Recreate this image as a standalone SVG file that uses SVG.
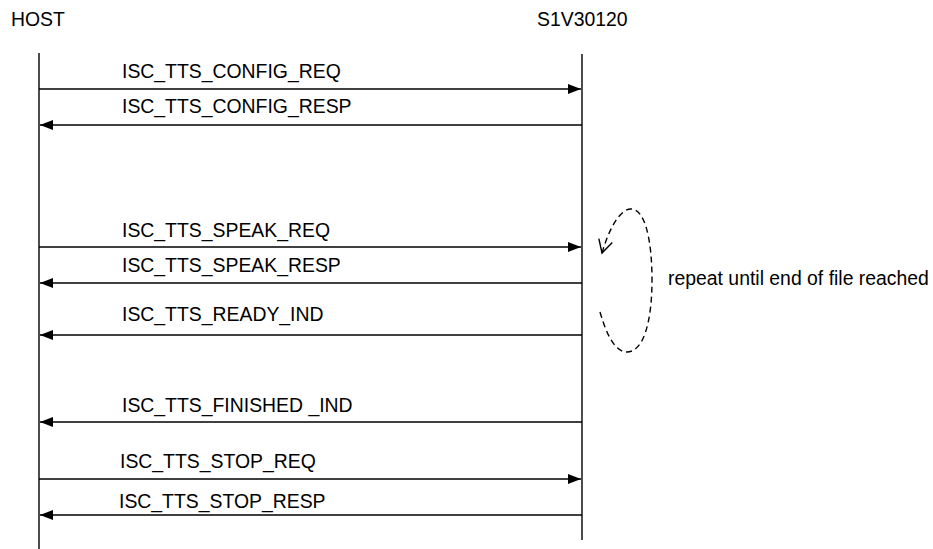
<svg xmlns="http://www.w3.org/2000/svg" width="933" height="549" viewBox="0 0 933 549">
<defs>
<style>
text{font-family:"Liberation Sans",Arial,sans-serif;font-size:19.4px;fill:#000}
.life{stroke:#000;stroke-width:1.4;fill:none}
.msg{stroke:#000;stroke-width:1.4;fill:none;marker-end:url(#arr)}
.loop{stroke:#000;stroke-width:1.4;fill:none;stroke-dasharray:6,4;marker-end:url(#open)}
</style>
<marker id="arr" markerUnits="userSpaceOnUse" markerWidth="14" markerHeight="12" refX="13" refY="5" orient="auto">
<path d="M0,0 L13,5 L0,10 Z" fill="#000"/>
</marker>
<marker id="open" markerUnits="userSpaceOnUse" markerWidth="18" markerHeight="18" refX="14" refY="8" orient="auto">
<path d="M1,1 L14,8 L1,15" fill="none" stroke="#000" stroke-width="1.4"/>
</marker>
</defs>
<g id="host">
<text x="11" y="26">HOST</text>
<line class="life" x1="39" y1="53" x2="39" y2="549"/>
</g>
<g id="s1v30120">
<text x="537" y="26">S1V30120</text>
<line class="life" x1="582" y1="54" x2="582" y2="540"/>
</g>
<g id="connectors">
<line class="msg" x1="39" y1="89" x2="581" y2="89"/>
<text x="122" y="78">ISC_TTS_CONFIG_REQ</text>
<line class="msg" x1="582" y1="125" x2="40" y2="125"/>
<text x="122" y="113">ISC_TTS_CONFIG_RESP</text>
<line class="msg" x1="39" y1="247" x2="581" y2="247"/>
<text x="122" y="237">ISC_TTS_SPEAK_REQ</text>
<line class="msg" x1="582" y1="283" x2="40" y2="283"/>
<text x="122" y="272">ISC_TTS_SPEAK_RESP</text>
<line class="msg" x1="582" y1="335" x2="40" y2="335"/>
<text x="122" y="321">ISC_TTS_READY_IND</text>
<line class="msg" x1="582" y1="422" x2="40" y2="422"/>
<text x="122" y="412">ISC_TTS_FINISHED _IND</text>
<line class="msg" x1="39" y1="479" x2="581" y2="479"/>
<text x="120" y="468">ISC_TTS_STOP_REQ</text>
<line class="msg" x1="582" y1="515" x2="40" y2="515"/>
<text x="119" y="508">ISC_TTS_STOP_RESP</text>
<path class="loop" d="M600,312 C608,340 617,352 627,352 C644,352 652,320 652,280 C652,240 645,209 631,209 C619,209 608,232 602,253"/>
</g>
<text x="668" y="285">repeat until end of file reached</text>
</svg>
